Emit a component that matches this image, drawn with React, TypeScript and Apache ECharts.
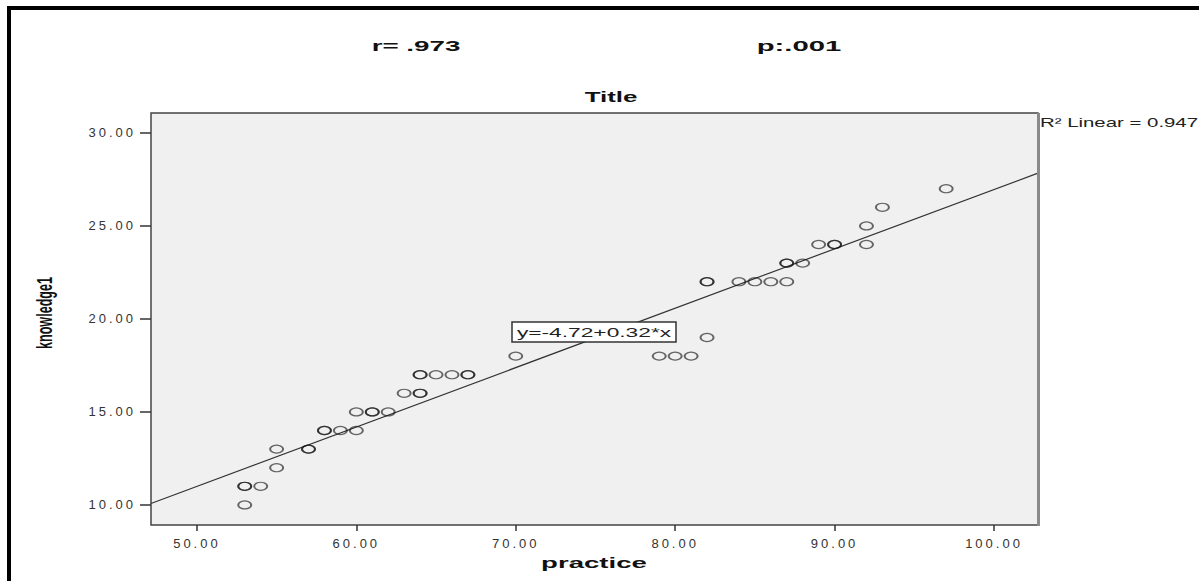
import React, { useEffect, useRef } from "react";
import * as echarts from "echarts";

// practice (x) and knowledge1 (y); repeated pairs are overplotted cases
const practice = [53, 53, 53, 54, 55, 55, 57, 57, 58, 58, 59, 60, 60, 61, 61, 62, 63, 64, 64, 64, 64, 65, 66, 67, 67, 70, 79, 80, 81, 82, 82, 82, 84, 85, 86, 87, 87, 87, 88, 89, 90, 90, 92, 92, 93, 97];
const knowledge1 = [10, 11, 11, 11, 12, 13, 13, 13, 14, 14, 14, 14, 15, 15, 15, 15, 16, 16, 16, 17, 17, 17, 17, 17, 17, 18, 18, 18, 18, 19, 22, 22, 22, 22, 22, 22, 23, 23, 23, 24, 24, 24, 24, 25, 26, 27];

const xTicks = [50, 60, 70, 80, 90, 100];
const yTicks = [10, 15, 20, 25, 30];
const xRange = [47.12, 102.76];
const yRange = [8.92, 31.07];

const rText = "r= .973";
const pText = "p:.001";
const titleText = "Title";
const r2Text = "R\u00B2 Linear = 0.947";
const eqText = "y=-4.72+0.32*x";
const xName = "practice";
const yName = "knowledge1";

function fit(xs: number[], ys: number[]) {
  const n = xs.length;
  const mx = xs.reduce((a, b) => a + b, 0) / n;
  const my = ys.reduce((a, b) => a + b, 0) / n;
  let sxy = 0, sxx = 0;
  for (let i = 0; i < n; i++) {
    sxy += (xs[i] - mx) * (ys[i] - my);
    sxx += (xs[i] - mx) * (xs[i] - mx);
  }
  const b = sxy / sxx;
  return { a: my - b * mx, b };
}

export default function App() {
  const ref = useRef<HTMLDivElement>(null);
  useEffect(() => {
    document.body.style.margin = "0";
    const chart = echarts.init(ref.current!, undefined, { renderer: "svg" });
    const { a, b } = fit(practice, knowledge1);
    const points = practice.map((x, i) => [x, knowledge1[i]]);
    const lineData = xRange.map((x) => [x, a + b * x]);
    const tickFont = "Liberation Sans, Arimo";
    const F = "Liberation Sans";
    const center = { align: "center", verticalAlign: "middle", textAlign: "center", textVerticalAlign: "middle" };
    chart.setOption({
      animation: false,
      backgroundColor: "#ffffff",
      grid: {
        left: 151,
        top: 113,
        width: 887,
        height: 412,
        show: true,
        backgroundColor: "#f0f0f0",
        borderColor: "#444",
        borderWidth: 1.5,
      },
      xAxis: {
        type: "value",
        min: xRange[0],
        max: xRange[1],
        axisLine: { show: false },
        splitLine: { show: false },
        axisTick: {
          show: true,
          customValues: xTicks,
          length: 6,
          lineStyle: { color: "#333", width: 1.5 },
        },
        axisLabel: {
          customValues: xTicks,
          formatter: (v: number) => v.toFixed(2),
          margin: 12,
          fontSize: 13,
          fontFamily: tickFont,
          color: "#333",
        },
      },
      yAxis: {
        type: "value",
        min: yRange[0],
        max: yRange[1],
        axisLine: { show: false },
        splitLine: { show: false },
        axisTick: {
          show: true,
          customValues: yTicks,
          length: 11,
          lineStyle: { color: "#333", width: 1.5 },
        },
        axisLabel: {
          customValues: yTicks,
          formatter: (v: number) => v.toFixed(2),
          margin: 15,
          fontSize: 13,
          fontFamily: tickFont,
          color: "#333",
        },
      },
      series: [
        {
          type: "line",
          data: lineData,
          symbol: "none",
          silent: true,
          lineStyle: { color: "#333", width: 1.2 },
          z: 2,
        },
        {
          type: "scatter",
          data: points,
          symbol: "circle",
          symbolSize: [13, 8],
          silent: true,
          itemStyle: {
            color: "rgba(0,0,0,0)",
            borderColor: "rgba(20,20,20,0.8)",
            borderWidth: 1.5,
          },
          z: 3,
        },
      ],
      graphic: [
        { type: "rect", shape: { x: 7, y: 6, width: 4, height: 575 }, style: { fill: "#000" } },
        { type: "rect", shape: { x: 7, y: 6, width: 1192, height: 4 }, style: { fill: "#000" } },
        { type: "rect", shape: { x: 1037, y: 113, width: 3, height: 413 }, style: { fill: "#8a8a8a" }, z: 10 },
        {
          type: "text", x: 416, y: 46, scaleX: 1.85,
          style: { text: rText, font: `bold 15px ${F}`, fill: "#111", ...center },
        },
        {
          type: "text", x: 799, y: 46, scaleX: 1.95,
          style: { text: pText, font: `bold 15px ${F}`, fill: "#111", ...center },
        },
        {
          type: "text", x: 611, y: 97, scaleX: 1.85,
          style: { text: titleText, font: `bold 14px ${F}`, fill: "#111", ...center },
        },
        {
          type: "text", x: 1040, y: 123, scaleX: 1.7,
          style: { text: r2Text, font: `12px ${F}`, fill: "#222", align: "left", verticalAlign: "middle", textAlign: "left", textVerticalAlign: "middle" },
        },
        {
          type: "rect", shape: { x: 512, y: 322, width: 164, height: 20 },
          style: { fill: "#fff", stroke: "#333", lineWidth: 1.5 }, z: 20,
        },
        {
          type: "text", x: 594, y: 332, scaleX: 1.75, z: 21,
          style: { text: eqText, font: `13px ${F}`, fill: "#222", ...center },
        },
        {
          type: "text", x: 594, y: 563, scaleX: 1.84,
          style: { text: xName, font: `bold 15px ${F}`, fill: "#111", ...center },
        },
        {
          type: "text", x: 45, y: 313, rotation: Math.PI / 2, scaleX: 0.9, scaleY: 1.6,
          style: { text: yName, font: `bold 14px ${F}`, fill: "#111", ...center },
        },
      ],
    });
    return () => chart.dispose();
  }, []);
  return (
    <>
      <style>{`text[style*="Arimo"]{letter-spacing:3px;}`}</style>
      <div ref={ref} style={{ width: 1199, height: 581 }} />
    </>
  );
}
